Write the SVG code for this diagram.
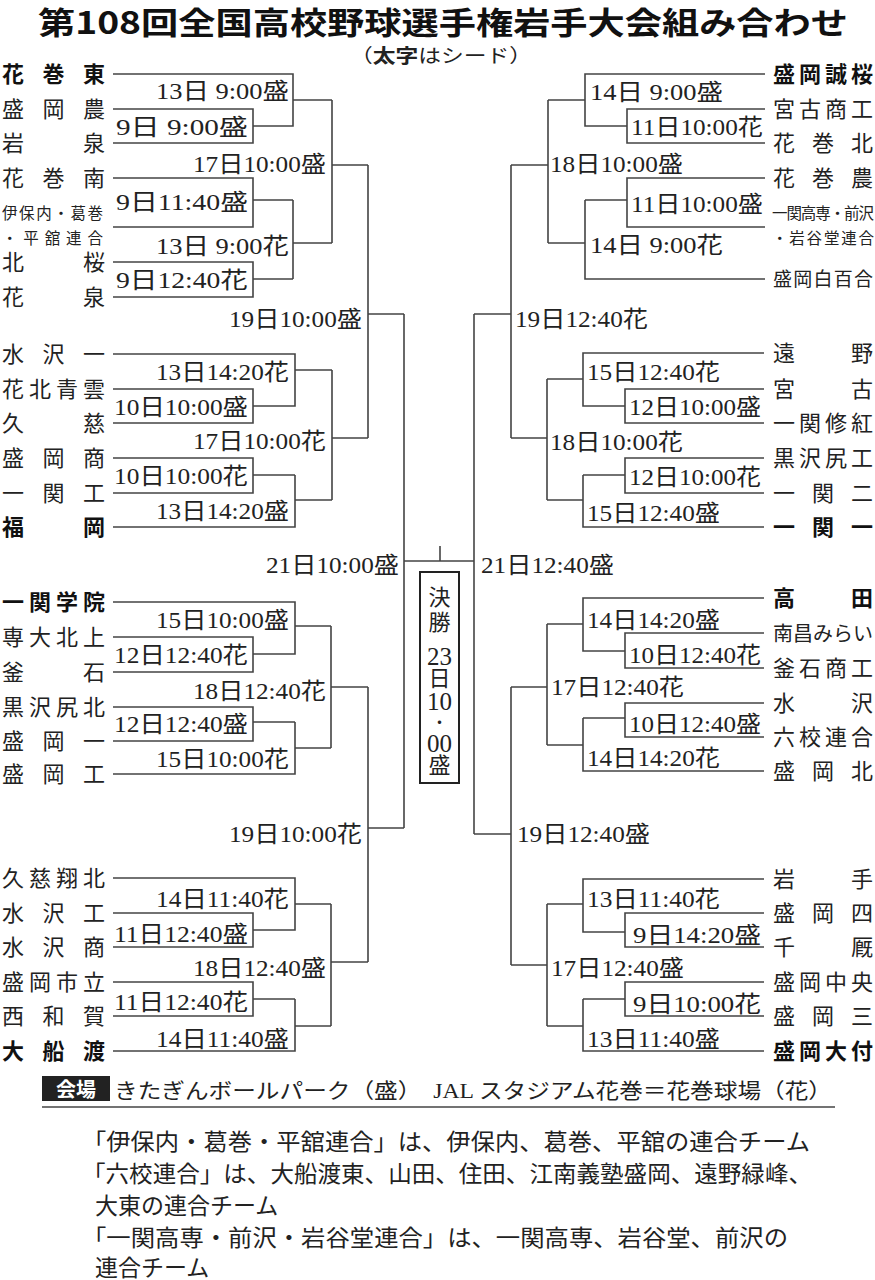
<svg xmlns="http://www.w3.org/2000/svg" width="875" height="1280" viewBox="0 0 875 1280">
<style>
.ln{fill:none;stroke:#444;stroke-width:1.6}
.d,.de{font-family:"Liberation Serif","Noto Sans CJK JP",serif;font-size:23px;fill:#222}
.de{text-anchor:end}
.n{font-family:"Noto Sans CJK JP",sans-serif;font-size:22px;fill:#222}
.b{font-weight:bold;fill:#111}
.s{font-family:"Noto Sans CJK JP",sans-serif;font-size:15.5px;fill:#222}
.f{font-family:"Liberation Serif","Noto Sans CJK JP",serif;font-size:23px;fill:#222}
.v{font-family:"Liberation Serif","Noto Sans CJK JP",serif;font-size:22px;fill:#222;text-anchor:middle}
.vd{font-size:25px}
</style>
<rect width="875" height="1280" fill="#fff"/>
<g id="title">
<text x="38" y="34" textLength="810" lengthAdjust="spacingAndGlyphs" style="font-family:'Noto Sans CJK JP',sans-serif;font-size:31px;font-weight:bold;fill:#111">第108回全国高校野球選手権岩手大会組み合わせ</text>
<text x="350" y="63" textLength="182" lengthAdjust="spacingAndGlyphs" style="font-family:'Noto Sans CJK JP',sans-serif;font-size:19px;fill:#222">（<tspan font-weight="bold">太字</tspan>はシード）</text>
</g>
<g id="connectors">
<path class="ln" d="M113,74H293V126H253M113,109H253V143H113M293,100H332M113,178H253V227H113M253,200H293M113,262H253V297H113M253,279H293M293,200V279M293,243H332M332,100V243M332,165H368M368,165V438M368,314H404"/>
<path class="ln" d="M113,354H295V406H253M113,389H253V423H113M295,370H332M113,458H253V493H113M253,475H295M113,527H295V475M295,500H332M332,370V500M332,438H368"/>
<path class="ln" d="M404,314V828M404,561H474M440,546V561"/>
<path class="ln" d="M113,602H295V654H253M113,637H253V672H113M295,626H331M113,707H253V741H113M253,722H295M113,774H295V722M295,748H331M331,626V748M331,687H368M368,687V962M368,828H404"/>
<path class="ln" d="M113,878H295V930H253M113,913H253V947H113M295,904H331M113,982H253V1016H113M253,999H295M113,1051H295V999M295,1026H331M331,904V1026M331,962H368"/>
<path class="ln" d="M765,74H585V126H627M765,109H627V143H765M585,100H548M765,178H627V227H765M627,200H585M765,279H585V200M585,243H548M548,100V243M548,165H511M511,165V438M511,314H474"/>
<path class="ln" d="M764,353H583V406H625M764,389H625V423H764M583,379H547M764,458H625V493H764M625,475H583M764,527H583V475M583,500H547M547,379V500M547,438H511"/>
<path class="ln" d="M474,314V834"/>
<path class="ln" d="M764,598H583V651H625M764,633H625V668H764M583,624H547M764,703H625V737H764M625,718H583M764,771H583V718M583,745H547M547,624V745M547,687H511M511,687V965M511,834H474"/>
<path class="ln" d="M764,879H583V932H625M764,913H625V947H764M583,904H547M764,982H625V1016H764M625,999H583M764,1051H583V999M583,1026H547M547,904V1026M547,965H511"/>
</g>
<g id="final">
<rect x="420" y="572" width="39" height="211" fill="none" stroke="#222" stroke-width="2"/>
<text class="v" x="439.5" y="605">決</text><text class="v" x="439.5" y="630">勝</text>
<text class="v vd" x="439.5" y="665">23</text><text class="v" x="439.5" y="686">日</text>
<text class="v vd" x="439.5" y="710">10</text><text class="v" x="439.5" y="728" style="font-size:16px">・</text>
<text class="v vd" x="439.5" y="752">00</text><text class="v" x="439.5" y="773">盛</text>
</g>
<g id="dates-left">
<text class="de" x="289" y="99" textLength="133" lengthAdjust="spacingAndGlyphs">13日 9:00盛</text>
<text class="d" x="116" y="135" textLength="132" lengthAdjust="spacingAndGlyphs">9日 9:00盛</text>
<text class="de" x="326" y="172" textLength="133" lengthAdjust="spacingAndGlyphs">17日10:00盛</text>
<text class="d" x="116" y="210" textLength="132" lengthAdjust="spacingAndGlyphs">9日11:40盛</text>
<text class="de" x="289" y="254" textLength="133" lengthAdjust="spacingAndGlyphs">13日 9:00花</text>
<text class="d" x="116" y="288" textLength="132" lengthAdjust="spacingAndGlyphs">9日12:40花</text>
<text class="de" x="362" y="327" textLength="133" lengthAdjust="spacingAndGlyphs">19日10:00盛</text>
<text class="de" x="289" y="380" textLength="133" lengthAdjust="spacingAndGlyphs">13日14:20花</text>
<text class="d" x="114" y="415" textLength="134" lengthAdjust="spacingAndGlyphs">10日10:00盛</text>
<text class="de" x="326" y="449" textLength="133" lengthAdjust="spacingAndGlyphs">17日10:00花</text>
<text class="d" x="114" y="484" textLength="134" lengthAdjust="spacingAndGlyphs">10日10:00花</text>
<text class="de" x="289" y="519" textLength="133" lengthAdjust="spacingAndGlyphs">13日14:20盛</text>
<text class="de" x="399" y="573" textLength="133" lengthAdjust="spacingAndGlyphs">21日10:00盛</text>
<text class="de" x="289" y="628" textLength="133" lengthAdjust="spacingAndGlyphs">15日10:00盛</text>
<text class="d" x="114" y="663" textLength="134" lengthAdjust="spacingAndGlyphs">12日12:40花</text>
<text class="de" x="326" y="699" textLength="133" lengthAdjust="spacingAndGlyphs">18日12:40花</text>
<text class="d" x="114" y="732" textLength="134" lengthAdjust="spacingAndGlyphs">12日12:40盛</text>
<text class="de" x="289" y="767" textLength="133" lengthAdjust="spacingAndGlyphs">15日10:00花</text>
<text class="de" x="362" y="842" textLength="133" lengthAdjust="spacingAndGlyphs">19日10:00花</text>
<text class="de" x="289" y="907" textLength="133" lengthAdjust="spacingAndGlyphs">14日11:40花</text>
<text class="d" x="114" y="942" textLength="134" lengthAdjust="spacingAndGlyphs">11日12:40盛</text>
<text class="de" x="326" y="976" textLength="133" lengthAdjust="spacingAndGlyphs">18日12:40盛</text>
<text class="d" x="114" y="1010" textLength="134" lengthAdjust="spacingAndGlyphs">11日12:40花</text>
<text class="de" x="289" y="1047" textLength="133" lengthAdjust="spacingAndGlyphs">14日11:40盛</text>
</g>
<g id="dates-right">
<text class="d" x="590" y="100" textLength="133" lengthAdjust="spacingAndGlyphs">14日 9:00盛</text>
<text class="d" x="631" y="135" textLength="132" lengthAdjust="spacingAndGlyphs">11日10:00花</text>
<text class="d" x="550" y="172" textLength="133" lengthAdjust="spacingAndGlyphs">18日10:00盛</text>
<text class="d" x="631" y="212" textLength="132" lengthAdjust="spacingAndGlyphs">11日10:00盛</text>
<text class="d" x="590" y="253" textLength="133" lengthAdjust="spacingAndGlyphs">14日 9:00花</text>
<text class="d" x="515" y="327" textLength="133" lengthAdjust="spacingAndGlyphs">19日12:40花</text>
<text class="d" x="587" y="380" textLength="133" lengthAdjust="spacingAndGlyphs">15日12:40花</text>
<text class="d" x="629" y="415" textLength="132" lengthAdjust="spacingAndGlyphs">12日10:00盛</text>
<text class="d" x="550" y="450" textLength="133" lengthAdjust="spacingAndGlyphs">18日10:00花</text>
<text class="d" x="629" y="485" textLength="132" lengthAdjust="spacingAndGlyphs">12日10:00花</text>
<text class="d" x="587" y="521" textLength="133" lengthAdjust="spacingAndGlyphs">15日12:40盛</text>
<text class="d" x="481" y="573" textLength="133" lengthAdjust="spacingAndGlyphs">21日12:40盛</text>
<text class="d" x="587" y="628" textLength="133" lengthAdjust="spacingAndGlyphs">14日14:20盛</text>
<text class="d" x="629" y="663" textLength="132" lengthAdjust="spacingAndGlyphs">10日12:40花</text>
<text class="d" x="551" y="695" textLength="133" lengthAdjust="spacingAndGlyphs">17日12:40花</text>
<text class="d" x="629" y="732" textLength="132" lengthAdjust="spacingAndGlyphs">10日12:40盛</text>
<text class="d" x="587" y="766" textLength="133" lengthAdjust="spacingAndGlyphs">14日14:20花</text>
<text class="d" x="517" y="842" textLength="133" lengthAdjust="spacingAndGlyphs">19日12:40盛</text>
<text class="d" x="587" y="907" textLength="133" lengthAdjust="spacingAndGlyphs">13日11:40花</text>
<text class="d" x="633" y="943" textLength="128" lengthAdjust="spacingAndGlyphs">9日14:20盛</text>
<text class="d" x="551" y="976" textLength="133" lengthAdjust="spacingAndGlyphs">17日12:40盛</text>
<text class="d" x="633" y="1012" textLength="128" lengthAdjust="spacingAndGlyphs">9日10:00花</text>
<text class="d" x="587" y="1047" textLength="133" lengthAdjust="spacingAndGlyphs">13日11:40盛</text>
</g>
<g id="teams-left">
<text class="n b" x="2" y="82" textLength="103">花巻東</text>
<text class="n" x="2" y="117" textLength="103">盛岡農</text>
<text class="n" x="2" y="151" textLength="103">岩泉</text>
<text class="n" x="2" y="186" textLength="103">花巻南</text>
<text class="s" x="2" y="219" textLength="101">伊保内・葛巻</text>
<text class="s" x="2" y="244" textLength="101">・平舘連合</text>
<text class="n" x="2" y="270" textLength="103">北桜</text>
<text class="n" x="2" y="305" textLength="103">花泉</text>
<text class="n" x="2" y="362" textLength="103">水沢一</text>
<text class="n" x="2" y="397" textLength="103">花北青雲</text>
<text class="n" x="2" y="431" textLength="103">久慈</text>
<text class="n" x="2" y="466" textLength="103">盛岡商</text>
<text class="n" x="2" y="501" textLength="103">一関工</text>
<text class="n b" x="2" y="535" textLength="103">福岡</text>
<text class="n b" x="2" y="610" textLength="103">一関学院</text>
<text class="n" x="2" y="645" textLength="103">専大北上</text>
<text class="n" x="2" y="680" textLength="103">釜石</text>
<text class="n" x="2" y="715" textLength="103">黒沢尻北</text>
<text class="n" x="2" y="749" textLength="103">盛岡一</text>
<text class="n" x="2" y="782" textLength="103">盛岡工</text>
<text class="n" x="2" y="886" textLength="103">久慈翔北</text>
<text class="n" x="2" y="921" textLength="103">水沢工</text>
<text class="n" x="2" y="955" textLength="103">水沢商</text>
<text class="n" x="2" y="990" textLength="103">盛岡市立</text>
<text class="n" x="2" y="1024" textLength="103">西和賀</text>
<text class="n b" x="2" y="1059" textLength="103">大船渡</text>
</g>
<g id="teams-right">
<text class="n b" x="773" y="82" textLength="100">盛岡誠桜</text>
<text class="n" x="773" y="117" textLength="100">宮古商工</text>
<text class="n" x="773" y="151" textLength="100">花巻北</text>
<text class="n" x="773" y="186" textLength="100">花巻農</text>
<text class="s" x="772" y="219" textLength="102">一関高専・前沢</text>
<text class="s" x="772" y="244" textLength="102">・岩谷堂連合</text>
<text class="n" x="773" y="286" textLength="100" style="font-size:19px">盛岡白百合</text>
<text class="n" x="773" y="361" textLength="100">遠野</text>
<text class="n" x="773" y="397" textLength="100">宮古</text>
<text class="n" x="773" y="431" textLength="100">一関修紅</text>
<text class="n" x="773" y="466" textLength="100">黒沢尻工</text>
<text class="n" x="773" y="501" textLength="100">一関二</text>
<text class="n b" x="773" y="535" textLength="100">一関一</text>
<text class="n b" x="773" y="606" textLength="100">高田</text>
<text class="n" x="773" y="641" textLength="100" style="font-size:20px">南昌みらい</text>
<text class="n" x="773" y="676" textLength="100">釜石商工</text>
<text class="n" x="773" y="711" textLength="100">水沢</text>
<text class="n" x="773" y="745" textLength="100">六校連合</text>
<text class="n" x="773" y="779" textLength="100">盛岡北</text>
<text class="n" x="773" y="887" textLength="100">岩手</text>
<text class="n" x="773" y="921" textLength="100">盛岡四</text>
<text class="n" x="773" y="955" textLength="100">千厩</text>
<text class="n" x="773" y="990" textLength="100">盛岡中央</text>
<text class="n" x="773" y="1024" textLength="100">盛岡三</text>
<text class="n b" x="773" y="1059" textLength="100">盛岡大付</text>
</g>
<g id="venue">
<rect x="42" y="1076" width="68" height="25" fill="#222"/>
<text x="76" y="1097" text-anchor="middle" style="font-family:'Noto Sans CJK JP',sans-serif;font-size:20px;font-weight:bold;fill:#fff">会場</text>
<text class="f" x="114" y="1098" textLength="718" lengthAdjust="spacingAndGlyphs" style="font-size:21px">きたぎんボールパーク（盛）　JAL スタジアム花巻＝花巻球場（花）</text>
<path class="ln" d="M42,1107H835"/>
</g>
<g id="notes">
<text class="f" x="82" y="1150" textLength="728" lengthAdjust="spacingAndGlyphs">「伊保内・葛巻・平舘連合」は、伊保内、葛巻、平舘の連合チーム</text>
<text class="f" x="82" y="1182" textLength="730" lengthAdjust="spacingAndGlyphs">「六校連合」は、大船渡東、山田、住田、江南義塾盛岡、遠野緑峰、</text>
<text class="f" x="95" y="1214">大東の連合チーム</text>
<text class="f" x="82" y="1246" textLength="706" lengthAdjust="spacingAndGlyphs">「一関高専・前沢・岩谷堂連合」は、一関高専、岩谷堂、前沢の</text>
<text class="f" x="95" y="1276">連合チーム</text>
</g>
</svg>
